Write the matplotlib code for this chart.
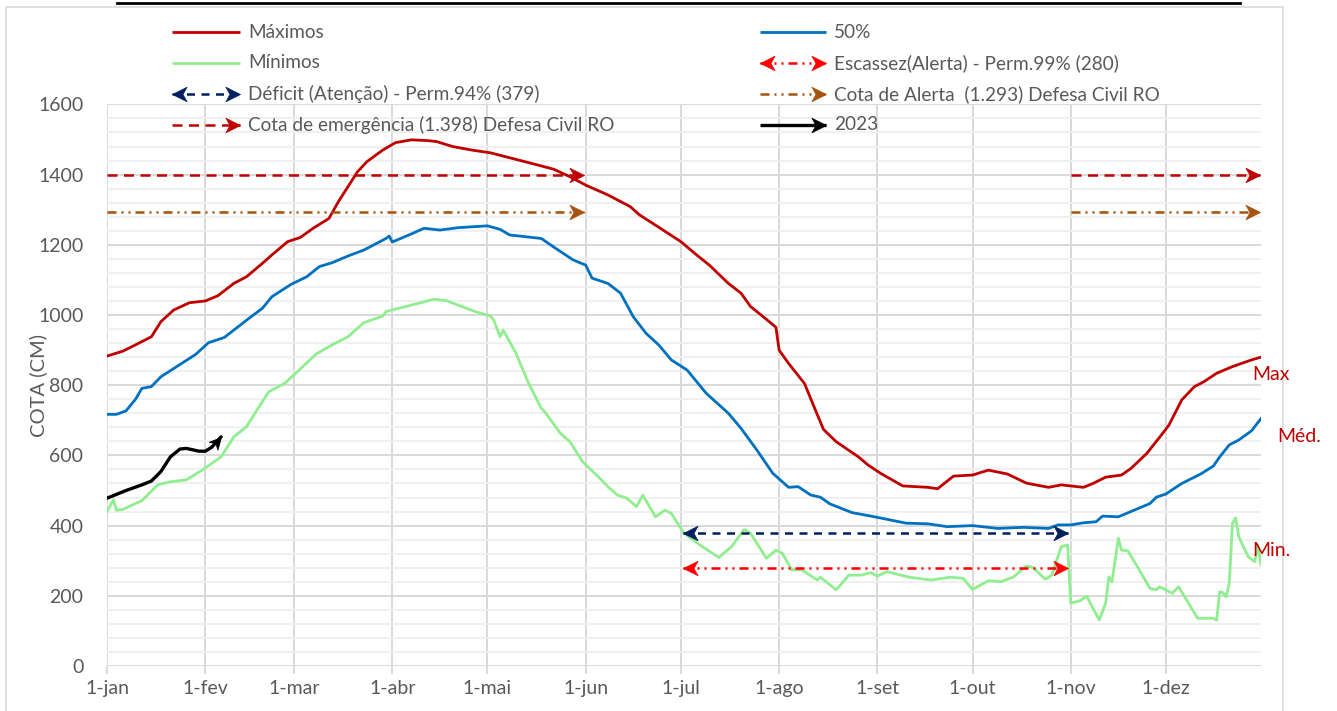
import matplotlib
matplotlib.use('Agg')
import matplotlib.pyplot as plt
from matplotlib.path import Path
from matplotlib.markers import MarkerStyle
from matplotlib.transforms import Affine2D
from matplotlib.lines import Line2D
from matplotlib.patches import Rectangle
import numpy as np

plt.rcParams['font.family'] = ['Lato', 'DejaVu Sans']

# ---------------- data (day of year, 0 = 1-jan) ----------------
month_labels = ['1-jan', '1-fev', '1-mar', '1-abr', '1-mai', '1-jun',
                '1-jul', '1-ago', '1-set', '1-out', '1-nov', '1-dez']
month_starts = [0, 31, 59, 90, 120, 151, 181, 212, 243, 273, 304, 334]

max_days = [0, 5, 9, 14, 17, 21, 26, 31, 35, 40, 44, 49, 52, 57, 61, 65, 70, 73, 79, 82,
            87, 91, 96, 101, 104, 109, 115, 121, 130, 136, 141, 146, 151, 158, 165, 168,
            173, 181, 186, 190, 196, 200, 203, 207, 211, 212, 215, 220, 223, 226, 230, 237,
            240, 244, 251, 259, 262, 267, 273, 278, 284, 290, 297, 301, 304, 308, 311, 315,
            320, 323, 328, 333, 335, 339, 343, 346, 350, 355, 361, 364]
max_vals = [883, 897, 915, 938, 981, 1014, 1035, 1040, 1055, 1090, 1109, 1147, 1171, 1209,
            1221, 1247, 1275, 1323, 1408, 1437, 1470, 1491, 1499, 1497, 1494, 1480, 1470,
            1462, 1441, 1427, 1415, 1394, 1370, 1342, 1309, 1285, 1256, 1209, 1171, 1142,
            1090, 1062, 1024, 995, 965, 900, 862, 805, 739, 674, 639, 596, 573, 549, 513,
            509, 505, 541, 544, 558, 547, 521, 509, 516, 513, 509, 520, 538, 544, 563, 606,
            663, 687, 758, 796, 810, 834, 853, 872, 880]

med_days = [0, 3, 6, 9, 11, 14, 17, 22, 28, 32, 37, 41, 45, 49, 52, 58, 63, 67, 71, 76, 81,
            88, 89, 90, 96, 100, 105, 111, 120, 124, 127, 137, 141, 147, 151, 153, 158, 162,
            166, 170, 174, 178, 183, 189, 196, 200, 205, 210, 215, 218, 222, 225, 228, 235,
            241, 246, 252, 259, 265, 273, 281, 289, 297, 300, 304, 308, 312, 314, 319, 324,
            329, 331, 334, 339, 345, 349, 351, 354, 357, 361, 364]
med_vals = [717, 717, 727, 760, 791, 796, 824, 853, 888, 921, 936, 964, 992, 1019, 1052,
            1087, 1109, 1138, 1149, 1168, 1185, 1218, 1225, 1208, 1231, 1247, 1242, 1249,
            1254, 1244, 1228, 1218, 1193, 1157, 1142, 1105, 1090, 1062, 995, 948, 915, 872,
            843, 777, 720, 677, 615, 549, 509, 511, 487, 481, 462, 437, 427, 418, 407, 405,
            397, 400, 392, 395, 392, 402, 402, 408, 411, 427, 425, 444, 463, 481, 490, 520,
            547, 570, 596, 630, 644, 670, 705]

min_days = [0, 2, 3, 5, 8, 11, 16, 20, 25, 30, 36, 40, 44, 48, 51, 56, 60, 64, 66, 71, 76,
            81, 87, 88, 95, 99, 103, 107, 112, 116, 121, 122, 124, 125, 129, 133, 137, 138,
            143, 146, 148, 150, 155, 158, 161, 164, 167, 169, 173, 176, 178, 182, 187, 193,
            197, 201, 203, 208, 211, 213, 216, 219, 224, 225, 230, 234, 238, 241, 243, 246,
            253, 260, 266, 270, 273, 278, 282, 286, 290, 292, 296, 298, 301, 303, 304, 307,
            309, 311, 313, 315, 316, 317, 319, 320, 322, 325, 329, 331, 332, 336, 338, 344,
            349, 350, 351, 352, 353, 354, 355, 356, 357, 360, 362, 363, 364]
min_vals = [440, 473, 444, 446, 459, 471, 516, 525, 530, 558, 596, 653, 682, 739, 781, 805,
            838, 872, 889, 915, 938, 978, 997, 1010, 1026, 1035, 1045, 1041, 1024, 1010, 997,
            985, 938, 957, 891, 805, 734, 725, 663, 639, 611, 582, 539, 511, 487, 478, 454,
            487, 425, 444, 435, 378, 345, 309, 340, 389, 378, 307, 330, 321, 274, 275, 245,
            253, 217, 259, 259, 266, 256, 269, 253, 245, 253, 250, 218, 243, 240, 254, 285,
            281, 247, 259, 340, 345, 179, 186, 199, 164, 131, 179, 254, 240, 364, 330, 328,
            283, 221, 217, 226, 207, 226, 136, 136, 131, 212, 209, 197, 236, 407, 422, 368,
            311, 297, 345, 288]

y2023_days = [0, 6, 11, 14, 17, 20, 23, 25, 29, 31, 33, 36]
y2023_vals = [478, 500, 516, 527, 554, 596, 618, 620, 612, 612, 623, 653]

# reference levels
emerg_level = 1398
alert_level = 1293
deficit_level = 379
escassez_level = 280
flood_ranges = [(0, 150.5), (304, 363.7)]
drought_range = (181.7, 303.2)

# ---------------- figure ----------------
W, H = 1337, 711
fig = plt.figure(figsize=(W / 100, H / 100), dpi=100)
ax = fig.add_axes([107 / W, 1 - 666 / H, (1261 - 107) / W, (666 - 104.4) / H])
ax.set_xlim(0, 364)
ax.set_ylim(0, 1600)

GRAY_TXT = '#595959'
C_MAX = '#C00000'
C_MED = '#0070C0'
C_MIN = '#90EE90'
C_NAVY = '#002060'
C_RED = '#FF0000'
C_BROWN = '#A5540F'

ARROW = Path([(0, 0), (-1, 0.5), (-0.72, 0), (-1, -0.5), (0, 0)],
             [Path.MOVETO, Path.LINETO, Path.LINETO, Path.LINETO, Path.CLOSEPOLY])


def arrow_marker(angle):
    return MarkerStyle(ARROW, transform=Affine2D().rotate_deg(angle), joinstyle='miter')


# grid
ax.set_yticks(np.arange(0, 1601, 200))
ax.set_yticks(np.arange(0, 1601, 40), minor=True)
ax.set_xticks(month_starts)
ax.set_xticklabels(month_labels)
ax.yaxis.grid(True, which='minor', color='#EFEFEF', lw=1.3)
ax.yaxis.grid(True, which='major', color='#D9D9D9', lw=1.4)
ax.xaxis.grid(True, which='major', color='#D9D9D9', lw=1.4)
ax.set_axisbelow(True)
for s in ax.spines.values():
    s.set_visible(False)
ax.tick_params(axis='y', which='both', length=0, pad=17, labelsize=14, labelcolor=GRAY_TXT)
ax.tick_params(axis='x', length=6, width=1.4, color='#D9D9D9', pad=4, labelsize=14,
               labelcolor=GRAY_TXT)

# series
ax.plot(min_days, min_vals, color=C_MIN, lw=2.0)
ax.plot(med_days, med_vals, color=C_MED, lw=2.0)
ax.plot(max_days, max_vals, color=C_MAX, lw=2.0)

DASH = (4.0, 2.6)
DDOT = (3.6, 2.0, 0.8, 2.0, 0.8, 2.0)
AMS = 21


def level_arrow(x0, x1, y, color, dashes, left=False, lw=1.8):
    ax.plot([x0, x1], [y, y], color=color, lw=lw, dashes=dashes, solid_capstyle='butt')
    ax.plot([x1], [y], marker=arrow_marker(0), ms=AMS, color=color, mew=0.5,
            linestyle='none', clip_on=False)
    if left:
        ax.plot([x0], [y], marker=arrow_marker(180), ms=AMS, color=color, mew=0.5,
                linestyle='none', clip_on=False)


for (a, b) in flood_ranges:
    level_arrow(a, b, emerg_level, C_MAX, DASH)
    level_arrow(a, b, alert_level, C_BROWN, DDOT)
level_arrow(drought_range[0], drought_range[1], deficit_level, C_NAVY, (3.2, 2.6), left=True)
level_arrow(drought_range[0], drought_range[1], escassez_level, C_RED, DDOT, left=True)

# 2023
ax.plot(y2023_days, y2023_vals, color='black', lw=2.4, solid_capstyle='round')
p = ax.transData.transform(np.array([[y2023_days[-2], y2023_vals[-2]],
                                     [y2023_days[-1], y2023_vals[-1]]]))
ang = np.degrees(np.arctan2(p[1, 1] - p[0, 1], p[1, 0] - p[0, 0]))
ax.plot([y2023_days[-1]], [y2023_vals[-1]], marker=arrow_marker(ang), ms=17,
        color='black', mew=0.5, linestyle='none')

# y label
fig.text(38 / W, 1 - 386 / H, 'COTA (CM)', rotation=90, ha='center', va='center',
         size=14.5, color=GRAY_TXT)

# curve labels
fig.text(1252 / W, 1 - 375 / H, 'Max', ha='left', va='center', size=14, color=C_MAX)
fig.text(1277 / W, 1 - 437 / H, 'Méd.', ha='left', va='center', size=14, color=C_MAX)
fig.text(1252 / W, 1 - 550 / H, 'Min.', ha='left', va='center', size=14, color=C_MAX)

# ---------------- legend (manual, pixel coords) ----------------
tpx = Affine2D().scale(1 / W, -1 / H).translate(0, 1) + fig.transFigure


def leg_entry(x0, x1, y, label, color, dashes=None, right=False, left=False, lw=2.0):
    ln = Line2D([x0, x1], [y, y], color=color, lw=lw, transform=tpx,
                solid_capstyle='butt')
    if dashes is not None:
        ln.set_dashes(dashes)
    fig.add_artist(ln)
    if right:
        fig.add_artist(Line2D([x1], [y], marker=arrow_marker(0), ms=AMS, color=color,
                              mew=0.5, linestyle='none', transform=tpx))
    if left:
        fig.add_artist(Line2D([x0], [y], marker=arrow_marker(180), ms=AMS, color=color,
                              mew=0.5, linestyle='none', transform=tpx))
    fig.text((x1 + 8) / W, 1 - y / H, label, ha='left', va='center', size=13.7,
             color=GRAY_TXT)


rows = [32, 63, 94, 125]
LX0, LX1 = 172, 240
RX0, RX1 = 760, 826
leg_entry(LX0, LX1, rows[0], 'Máximos', C_MAX)
leg_entry(LX0, LX1, rows[1], 'Mínimos', C_MIN)
leg_entry(LX0, LX1, rows[2], 'Déficit (Atenção) - Perm.94% (379)', C_NAVY, (3.2, 2.6),
          right=True, left=True, lw=1.8)
leg_entry(LX0, LX1, rows[3], 'Cota de emergência (1.398) Defesa Civil RO', C_MAX, DASH,
          right=True, lw=1.8)
leg_entry(RX0, RX1, rows[0], '50%', C_MED)
leg_entry(RX0, RX1, rows[1], 'Escassez(Alerta) - Perm.99% (280)', C_RED, DDOT,
          right=True, left=True, lw=1.8)
leg_entry(RX0, RX1, rows[2], 'Cota de Alerta  (1.293) Defesa Civil RO', C_BROWN, DDOT,
          right=True, lw=1.8)
leg_entry(RX0, RX1, rows[3], '2023', 'black', right=True, lw=2.4)

# chart border and top line
fig.add_artist(Rectangle((6, 7), 1277, 720, transform=tpx, fill=False,
                         edgecolor='#D9D9D9', lw=1.2))
fig.add_artist(Line2D([117, 1240], [3, 3], color='black', lw=2.0, transform=tpx))

fig.savefig('out.png', dpi=100)
